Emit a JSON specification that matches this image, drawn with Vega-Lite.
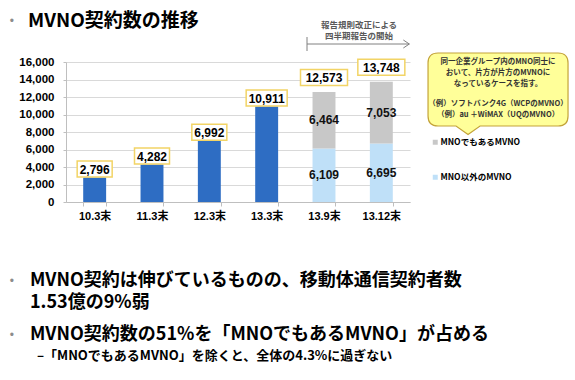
{
  "$schema": "https://vega.github.io/schema/vega-lite/v6.json",
  "width": 344,
  "height": 140,
  "autosize": {"type": "none"},
  "padding": {"left": 66, "top": 62, "right": 165, "bottom": 178},
  "background": "white",
  "config": {
    "view": {"stroke": null},
    "font": "Liberation Sans, Noto Sans CJK JP",
    "axisY": {"labelOverlap": false, "labelFont": "Liberation Sans", "labelFontWeight": "bold", "labelFontSize": 11.5, "labelColor": "#000000", "labelPadding": 9, "tickSize": 3, "tickColor": "#BFBFBF", "domainColor": "#BFBFBF", "gridColor": "#D9D9D9"},
    "axisX": {"labelAngle": 0, "labelFont": "Liberation Sans, Noto Sans CJK JP", "labelFontWeight": "bold", "labelFontSize": 11, "labelColor": "#000000", "labelPadding": 4, "tickBand": "extent", "tickSize": 4, "tickColor": "#BFBFBF", "domainColor": "#BFBFBF", "grid": false}
  },
  "data": {
    "values": [
      {"period": "10.3末", "type": "合計", "value": 2796},
      {"period": "11.3末", "type": "合計", "value": 4282},
      {"period": "12.3末", "type": "合計", "value": 6992},
      {"period": "13.3末", "type": "合計", "value": 10911},
      {"period": "13.9末", "type": "MNO以外のMVNO", "value": 6109},
      {"period": "13.9末", "type": "MNOでもあるMVNO", "value": 6464},
      {"period": "13.12末", "type": "MNO以外のMVNO", "value": 6695},
      {"period": "13.12末", "type": "MNOでもあるMVNO", "value": 7053}
    ]
  },
  "layer": [
    {
      "mark": {"type": "bar"},
      "encoding": {
        "x": {
          "field": "period", "type": "nominal",
          "scale": {"domain": ["10.3末", "11.3末", "12.3末", "13.3末", "13.9末", "13.12末"], "paddingInner": 0.6, "paddingOuter": 0.3},
          "axis": {"title": null}
        },
        "y": {
          "field": "value", "type": "quantitative",
          "scale": {"domain": [0, 16000], "nice": false},
          "axis": {"title": null, "values": [0, 2000, 4000, 6000, 8000, 10000, 12000, 14000, 16000], "format": ",d"}
        },
        "color": {
          "field": "type", "type": "nominal",
          "scale": {"domain": ["合計", "MNOでもあるMVNO", "MNO以外のMVNO"], "range": ["#2E6DC3", "#C8C8C8", "#BFE0F8"]},
          "legend": {"values": ["MNOでもあるMVNO", "MNO以外のMVNO"], "title": null, "orient": "none", "legendX": 365, "legendY": 76, "padding": 0, "symbolType": "square", "symbolSize": 25, "symbolStrokeWidth": 0, "labelFont": "Noto Sans CJK JP", "labelFontWeight": "bold", "labelFontSize": 8.5, "labelColor": "#000000", "labelOffset": 1, "rowPadding": 26}
        },
        "order": {"field": "type", "sort": "descending"}
      }
    },
    {
      "transform": [{"filter": "datum.type == '合計'"}],
      "mark": {"type": "point", "size": 4, "fill": "white", "fillOpacity": 1, "stroke": "#F2D466", "strokeWidth": 1.5, "opacity": 1, "yOffset": -8.5},
      "encoding": {
        "x": {"field": "period", "type": "nominal", "axis": {"title": null}},
        "y": {"field": "value", "type": "quantitative", "axis": {"title": null, "values": [0, 2000, 4000, 6000, 8000, 10000, 12000, 14000, 16000], "format": ",d"}},
        "shape": {"condition": {"test": "datum.value >= 10000", "value": "M-20.5,-8H20.5V8H-20.5Z"}, "value": "M-17.5,-8H17.5V8H-17.5Z"}
      }
    },
    {
      "transform": [{"filter": "datum.type == '合計'"}],
      "mark": {"type": "text", "font": "Liberation Sans", "fontWeight": "bold", "fontSize": 12, "color": "#000000", "baseline": "middle", "yOffset": -8},
      "encoding": {
        "x": {"field": "period", "type": "nominal", "axis": {"title": null}},
        "y": {"field": "value", "type": "quantitative", "axis": {"title": null, "values": [0, 2000, 4000, 6000, 8000, 10000, 12000, 14000, 16000], "format": ",d"}},
        "text": {"field": "value", "type": "quantitative", "format": ",d"}
      }
    },
    {
      "transform": [{"filter": "datum.type != '合計'"}, {"aggregate": [{"op": "sum", "field": "value", "as": "total"}], "groupby": ["period"]}],
      "mark": {"type": "point", "size": 4, "fill": "white", "fillOpacity": 1, "stroke": "#F2D466", "strokeWidth": 1.5, "opacity": 1, "shape": "M-23.5,-8H23.5V8H-23.5Z", "yOffset": -14.5},
      "encoding": {
        "x": {"field": "period", "type": "nominal", "axis": {"title": null}},
        "y": {"field": "total", "type": "quantitative", "axis": {"title": null, "values": [0, 2000, 4000, 6000, 8000, 10000, 12000, 14000, 16000], "format": ",d"}}
      }
    },
    {
      "transform": [{"filter": "datum.type != '合計'"}, {"aggregate": [{"op": "sum", "field": "value", "as": "total"}], "groupby": ["period"]}],
      "mark": {"type": "text", "font": "Liberation Sans", "fontWeight": "bold", "fontSize": 12, "color": "#000000", "baseline": "middle", "yOffset": -14},
      "encoding": {
        "x": {"field": "period", "type": "nominal", "axis": {"title": null}},
        "y": {"field": "total", "type": "quantitative", "axis": {"title": null, "values": [0, 2000, 4000, 6000, 8000, 10000, 12000, 14000, 16000], "format": ",d"}},
        "text": {"field": "total", "type": "quantitative", "format": ",d"}
      }
    },
    {
      "transform": [{"filter": "datum.type != '合計'"}],
      "mark": {"type": "text", "font": "Liberation Sans", "fontWeight": "bold", "fontSize": 12, "color": "#111111", "baseline": "middle"},
      "encoding": {
        "x": {"field": "period", "type": "nominal", "axis": {"title": null}},
        "y": {"field": "value", "type": "quantitative", "stack": "zero", "bandPosition": 0.5, "axis": {"title": null, "values": [0, 2000, 4000, 6000, 8000, 10000, 12000, 14000, 16000], "format": ",d"}},
        "order": {"field": "type", "sort": "descending"},
        "text": {"field": "value", "type": "quantitative", "format": ",d"}
      }
    },
    {
      "data": {"values": [{}]},
      "mark": {"type": "text", "text": ["報告規則改正による", "四半期報告の開始"], "font": "Noto Sans CJK JP", "fontWeight": "bold", "fontSize": 8.5, "lineHeight": 11, "color": "#595959", "align": "center", "baseline": "middle", "xOffset": 35, "yOffset": -37},
      "encoding": {"x": {"datum": "13.9末", "axis": {"title": null}}, "y": {"datum": 16000, "axis": {"title": null, "values": [0, 2000, 4000, 6000, 8000, 10000, 12000, 14000, 16000], "format": ",d"}}}
    },
    {
      "data": {"values": [{}]},
      "mark": {"type": "rule", "color": "#808080", "strokeWidth": 1, "xOffset": -17, "x2Offset": 28, "yOffset": -18},
      "encoding": {"x": {"datum": "13.9末", "axis": {"title": null}}, "x2": {"datum": "13.12末"}, "y": {"datum": 16000, "axis": {"title": null, "values": [0, 2000, 4000, 6000, 8000, 10000, 12000, 14000, 16000], "format": ",d"}}}
    },
    {
      "data": {"values": [{}]},
      "mark": {"type": "rule", "color": "#808080", "strokeWidth": 1, "xOffset": -17, "yOffset": -25, "y2Offset": -11},
      "encoding": {"x": {"datum": "13.9末", "axis": {"title": null}}, "y": {"datum": 16000, "axis": {"title": null, "values": [0, 2000, 4000, 6000, 8000, 10000, 12000, 14000, 16000], "format": ",d"}}, "y2": {"datum": 16000}}
    },
    {
      "data": {"values": [{}]},
      "mark": {"type": "point", "shape": "M-6,-4L0,0L-6,4", "size": 4, "filled": false, "stroke": "#808080", "strokeWidth": 1, "opacity": 1, "xOffset": 28, "yOffset": -18},
      "encoding": {"x": {"datum": "13.12末", "axis": {"title": null}}, "y": {"datum": 16000, "axis": {"title": null, "values": [0, 2000, 4000, 6000, 8000, 10000, 12000, 14000, 16000], "format": ",d"}}}
    },
    {
      "data": {"values": [{}]},
      "mark": {"type": "point", "shape": "M-60,-36.5H60Q70,-36.5 70,-26.5V26.5Q70,36.5 60,36.5H-18L-30,45L-42,36.5H-60Q-70,36.5 -70,26.5V-26.5Q-70,-36.5 -60,-36.5Z", "size": 4, "fill": "#FFFF99", "fillOpacity": 1, "stroke": "#C4A43A", "strokeWidth": 1.2, "opacity": 1, "xOffset": 116.7, "yOffset": 27.5},
      "encoding": {"x": {"datum": "13.12末", "axis": {"title": null}}, "y": {"datum": 16000, "axis": {"title": null, "values": [0, 2000, 4000, 6000, 8000, 10000, 12000, 14000, 16000], "format": ",d"}}}
    },
    {
      "data": {"values": [{}]},
      "mark": {"type": "text", "text": ["同一企業グループ内のMNO同士に", "おいて、片方が片方のMVNOに", "なっているケースを指す。"], "font": "Noto Sans CJK JP", "fontWeight": "bold", "fontSize": 7.5, "lineHeight": 11, "color": "#333333", "align": "center", "baseline": "middle", "xOffset": 116.7, "yOffset": 0},
      "encoding": {"x": {"datum": "13.12末", "axis": {"title": null}}, "y": {"datum": 16000, "axis": {"title": null, "values": [0, 2000, 4000, 6000, 8000, 10000, 12000, 14000, 16000], "format": ",d"}}}
    },
    {
      "data": {"values": [{}]},
      "mark": {"type": "text", "text": ["（例）ソフトバンク4G（WCPのMVNO）", "（例）au ＋WiMAX（UQのMVNO）"], "font": "Noto Sans CJK JP", "fontWeight": "bold", "fontSize": 7.5, "lineHeight": 11, "color": "#333333", "align": "center", "baseline": "middle", "xOffset": 116.7, "yOffset": 42},
      "encoding": {"x": {"datum": "13.12末", "axis": {"title": null}}, "y": {"datum": 16000, "axis": {"title": null, "values": [0, 2000, 4000, 6000, 8000, 10000, 12000, 14000, 16000], "format": ",d"}}}
    },
    {
      "data": {"values": [{}]},
      "mark": {"type": "text", "text": "MVNO契約数の推移", "font": "Noto Sans CJK JP", "fontWeight": "bold", "fontSize": 19, "color": "#000000", "align": "left", "baseline": "middle", "xOffset": -66.7, "yOffset": -41},
      "encoding": {"x": {"datum": "10.3末", "axis": {"title": null}}, "y": {"datum": 16000, "axis": {"title": null, "values": [0, 2000, 4000, 6000, 8000, 10000, 12000, 14000, 16000], "format": ",d"}}}
    },
    {
      "data": {"values": [{}]},
      "mark": {"type": "text", "text": "•", "fontSize": 12, "color": "#8C8C8C", "align": "center", "baseline": "middle", "xOffset": -82.7, "yOffset": -41},
      "encoding": {"x": {"datum": "10.3末", "axis": {"title": null}}, "y": {"datum": 16000, "axis": {"title": null, "values": [0, 2000, 4000, 6000, 8000, 10000, 12000, 14000, 16000], "format": ",d"}}}
    },
    {
      "data": {"values": [{}]},
      "mark": {"type": "text", "text": "MVNO契約は伸びているものの、移動体通信契約者数", "font": "Noto Sans CJK JP", "fontWeight": "bold", "fontSize": 18, "color": "#000000", "align": "left", "baseline": "middle", "xOffset": -64.7, "yOffset": 79},
      "encoding": {"x": {"datum": "10.3末", "axis": {"title": null}}, "y": {"datum": 0, "axis": {"title": null, "values": [0, 2000, 4000, 6000, 8000, 10000, 12000, 14000, 16000], "format": ",d"}}}
    },
    {
      "data": {"values": [{}]},
      "mark": {"type": "text", "text": "1.53億の9%弱", "font": "Noto Sans CJK JP", "fontWeight": "bold", "fontSize": 18, "color": "#000000", "align": "left", "baseline": "middle", "xOffset": -64.7, "yOffset": 101},
      "encoding": {"x": {"datum": "10.3末", "axis": {"title": null}}, "y": {"datum": 0, "axis": {"title": null, "values": [0, 2000, 4000, 6000, 8000, 10000, 12000, 14000, 16000], "format": ",d"}}}
    },
    {
      "data": {"values": [{}]},
      "mark": {"type": "text", "text": "MVNO契約数の51%を「MNOでもあるMVNO」が占める", "font": "Noto Sans CJK JP", "fontWeight": "bold", "fontSize": 18, "color": "#000000", "align": "left", "baseline": "middle", "xOffset": -64.7, "yOffset": 133},
      "encoding": {"x": {"datum": "10.3末", "axis": {"title": null}}, "y": {"datum": 0, "axis": {"title": null, "values": [0, 2000, 4000, 6000, 8000, 10000, 12000, 14000, 16000], "format": ",d"}}}
    },
    {
      "data": {"values": [{}]},
      "mark": {"type": "text", "text": "–「MNOでもあるMVNO」を除くと、全体の4.3%に過ぎない", "font": "Noto Sans CJK JP", "fontWeight": "bold", "fontSize": 13, "color": "#000000", "align": "left", "baseline": "middle", "xOffset": -57.7, "yOffset": 154},
      "encoding": {"x": {"datum": "10.3末", "axis": {"title": null}}, "y": {"datum": 0, "axis": {"title": null, "values": [0, 2000, 4000, 6000, 8000, 10000, 12000, 14000, 16000], "format": ",d"}}}
    },
    {
      "data": {"values": [{}]},
      "mark": {"type": "text", "text": "•", "fontSize": 12, "color": "#8C8C8C", "align": "center", "baseline": "middle", "xOffset": -82.7, "yOffset": 79},
      "encoding": {"x": {"datum": "10.3末", "axis": {"title": null}}, "y": {"datum": 0, "axis": {"title": null, "values": [0, 2000, 4000, 6000, 8000, 10000, 12000, 14000, 16000], "format": ",d"}}}
    },
    {
      "data": {"values": [{}]},
      "mark": {"type": "text", "text": "•", "fontSize": 12, "color": "#8C8C8C", "align": "center", "baseline": "middle", "xOffset": -82.7, "yOffset": 133},
      "encoding": {"x": {"datum": "10.3末", "axis": {"title": null}}, "y": {"datum": 0, "axis": {"title": null, "values": [0, 2000, 4000, 6000, 8000, 10000, 12000, 14000, 16000], "format": ",d"}}}
    }
  ]
}
